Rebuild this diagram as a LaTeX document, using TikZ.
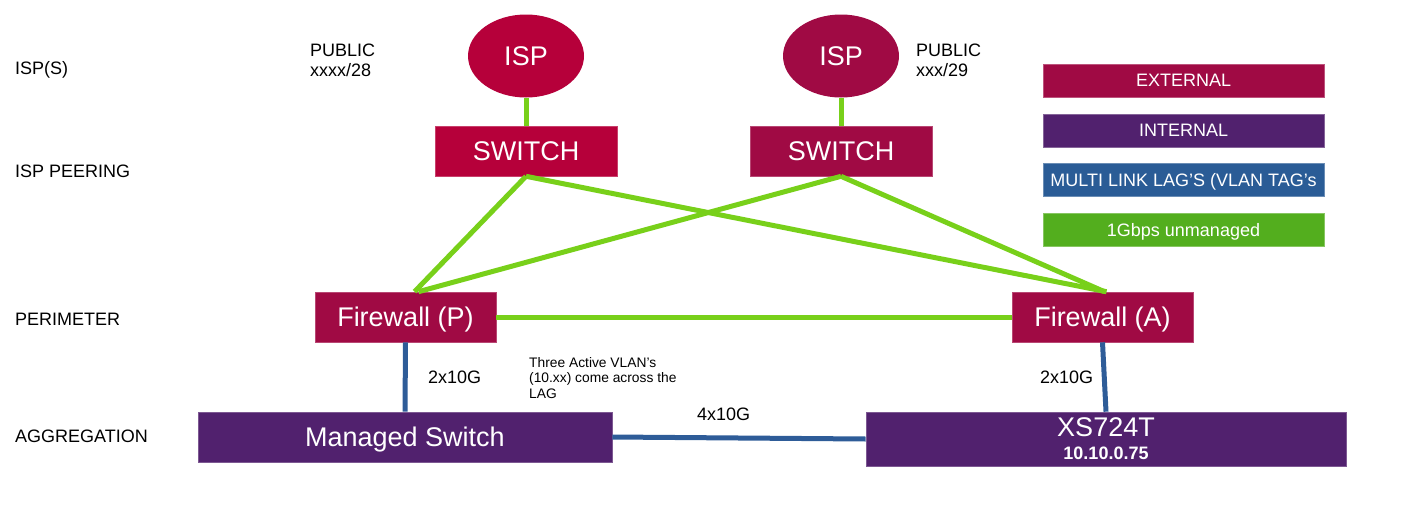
\documentclass[tikz,border=0pt]{standalone}
\usepackage{fontspec}
\setmainfont{Liberation Sans}
\usepackage{tikz}
\usetikzlibrary{shapes.geometric}
\definecolor{ispred}{RGB}{182,0,58}
\definecolor{extred}{RGB}{160,10,68}
\definecolor{intpurple}{RGB}{81,33,110}
\definecolor{lagblue}{RGB}{42,92,150}
\definecolor{gbgreen}{RGB}{83,174,30}
\definecolor{linkgreen}{RGB}{120,208,26}
\definecolor{lagline}{RGB}{46,92,152}

\begin{document}
\begin{tikzpicture}[
  x=1pt, y=-1pt,
  isp/.style={ellipse, fill=#1, text=white, inner sep=0pt, text height=19.3pt, text depth=0pt,
              minimum width=116, minimum height=83, font=\fontsize{27}{30}\selectfont},
  box/.style={draw=#1!75!white, line width=0.6pt, fill=#1, text=white, inner sep=0pt,
              text height=19.3pt, text depth=0pt,
              minimum width=182, minimum height=50, font=\fontsize{27}{30}\selectfont},
  key/.style={draw=#1!70!white, line width=0.6pt, fill=#1, text=white, inner sep=0pt,
              text height=12.9pt, text depth=0pt,
              minimum width=281, minimum height=33, font=\fontsize{18}{20}\selectfont},
  lbl/.style={anchor=base west, inner sep=0pt, font=\fontsize{18}{20}\selectfont},
  gig/.style={linkgreen, line width=5pt},
  lagl/.style={lagline, line width=5pt}]
\useasboundingbox (0,0) rectangle (1407,506);

\node[lbl] (lIsp) at (15,74) {ISP(S)};
\node[lbl] (lPeer) at (15,177) {ISP PEERING};
\node[lbl] (lPer) at (15,325.5) {PERIMETER};
\node[lbl] (lAgg) at (15,442.5) {AGGREGATION};
\node[lbl, anchor=north west, align=left] (pubL) at (310,44) {PUBLIC\\xxxx/28};
\node[lbl, anchor=north west, align=left] (pubR) at (916,44) {PUBLIC\\xxx/29};

\node[isp=ispred] (ispL) at (526,56) {ISP};
\node[isp=extred] (ispR) at (841,56) {ISP};
\node[box=ispred] (swL) at (526,151) {SWITCH};
\node[box=extred] (swR) at (841,151) {SWITCH};
\node[box=extred, minimum width=181] (fwP) at (405.5,317) {Firewall (P)};
\node[box=extred, minimum width=181] (fwA) at (1102.5,317) {Firewall (A)};
\node[box=intpurple, minimum width=414] (msw) at (405,437) {Managed Switch};
\node[box=intpurple, minimum width=480, minimum height=54, align=center,
      text height=, text depth=, font=\fontsize{27}{23}\selectfont] (xs) at (1106,439)
      {XS724T\\{\fontsize{18}{23}\selectfont\bfseries 10.10.0.75}};

\node[key=extred] (kExt) at (1183.5,80.5) {EXTERNAL};
\node[key=intpurple] (kInt) at (1183.5,130.5) {INTERNAL};
\node[key=lagblue] (kLag) at (1183.5,180) {MULTI LINK LAG’S (VLAN TAG’s};
\node[key=gbgreen] (kGig) at (1183.5,230) {1Gbps unmanaged};

\draw[gig] (ispL) -- (swL);
\draw[gig] (ispR) -- (swR);
\draw[gig] (swL.south) -- ([xshift=9pt]fwP.north);
\draw[gig] (swL.south) -- ([xshift=4pt]fwA.north);
\draw[gig] (swR.south) -- ([xshift=13pt]fwP.north);
\draw[gig] (swR.south) -- ([xshift=2pt]fwA.north);
\draw[gig] (fwP) -- (fwA);
\draw[lagl] (fwP.south) -- (msw.north);
\draw[lagl] (fwA.south) -- (xs.north);
\draw[lagl] (msw.east) -- (xs.west);

\node[lbl] (bwP) at (428,383) {2x10G};
\node[lbl] (bwA) at (1040,383) {2x10G};
\node[lbl] (bwLag) at (697,420) {4x10G};
\node[lbl, anchor=north west, align=left, font=\fontsize{13.8}{15.5}\selectfont] (vlans) at (529,357)
      {Three Active VLAN’s\\(10.xx) come across the\\LAG};
\end{tikzpicture}
\end{document}
